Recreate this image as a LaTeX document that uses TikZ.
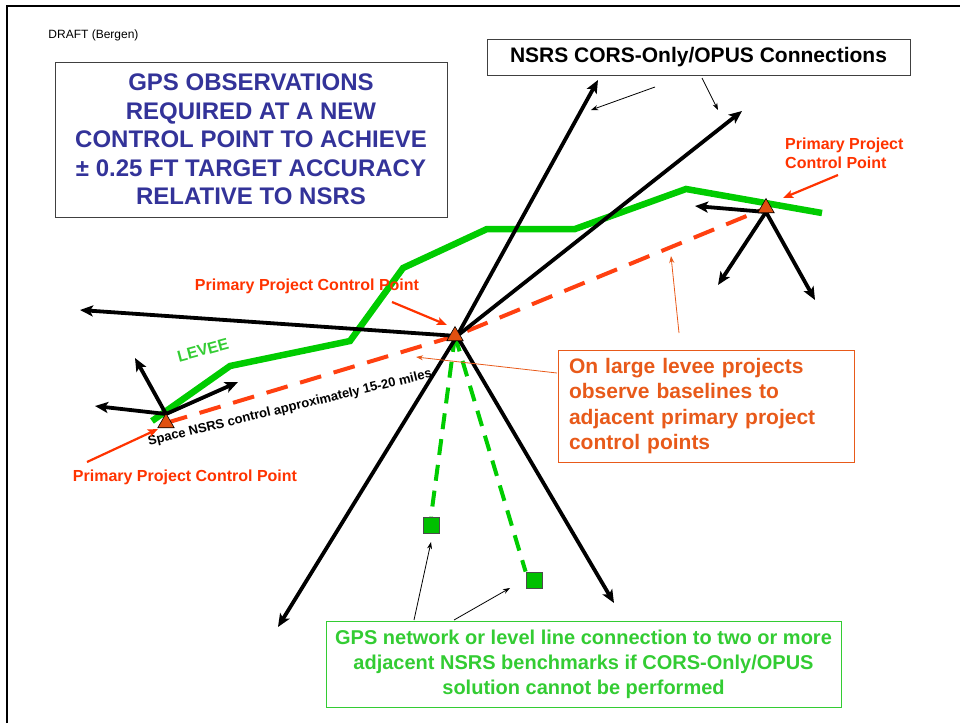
\documentclass[tikz,border=0pt]{standalone}
\usepackage{fontspec}
\setmainfont{Liberation Sans}
\usetikzlibrary{arrows.meta,shapes.geometric}
\definecolor{titleblue}{RGB}{51,51,153}
\definecolor{redlbl}{RGB}{255,51,0}
\definecolor{orangebox}{RGB}{232,90,26}
\definecolor{leveegreen}{RGB}{0,204,0}
\definecolor{greentxt}{RGB}{51,204,51}
\definecolor{trifill}{RGB}{224,80,16}
\definecolor{sqfill}{RGB}{0,192,0}
\definecolor{dashred}{RGB}{255,64,16}
\begin{document}
\begin{tikzpicture}[x=1pt,y=-1pt,
  bigarrow/.style={draw=black,line width=3.8pt,-{Stealth[length=13pt,width=11pt,inset=3pt]}},
  thinarrow/.style={draw=black,line width=0.8pt,-{Stealth[length=7pt,width=5pt]}},
  redarrow/.style={draw=redlbl,line width=2.2pt,-{Stealth[length=10pt,width=8pt,inset=2pt]}},
  orangethin/.style={draw=orangebox,line width=0.8pt,-{Stealth[length=7pt,width=5pt]}},
  leveeline/.style={draw=leveegreen,line width=6.5pt},
  obsline/.style={draw=dashred,line width=4pt,dash pattern=on 22pt off 13pt},
  levelline/.style={draw=leveegreen,line width=4pt,dash pattern=on 16pt off 10pt},
  ctrpt/.style={regular polygon,regular polygon sides=3,minimum size=19pt,inner sep=0pt,fill=trifill,draw=black,line width=0.6pt},
  bench/.style={rectangle,minimum size=16pt,inner sep=0pt,fill=sqfill,draw=black!70,line width=0.8pt},
  redlabel/.style={text=redlbl,font=\bfseries\fontsize{16}{19}\selectfont,inner sep=0pt},
  boxtext/.style={inner sep=0pt,font=\bfseries},
]
\path[use as bounding box] (0,0) rectangle (960,723);
\draw[line width=2.4pt] (7,723) -- (7,6) -- (960,6);

% texts and boxes
\node[font=\fontsize{12}{14}\selectfont,inner sep=0pt] (draft) at (93.5,35) {DRAFT (Bergen)};
\node[boxtext,draw=black!75,line width=0.8pt,minimum width=392pt,minimum height=155pt,align=center,text=titleblue,font=\bfseries\fontsize{24}{28.5}\selectfont] (title) at (251,139.5) {GPS OBSERVATIONS\\REQUIRED AT A NEW\\CONTROL POINT TO ACHIEVE\\± 0.25 FT TARGET ACCURACY\\RELATIVE TO NSRS};
\node[boxtext,draw=black!75,line width=0.8pt,minimum width=423pt,minimum height=36pt,font=\bfseries\fontsize{21}{25}\selectfont] (nsrs) at (698.5,57) {NSRS CORS-Only/OPUS Connections};
\node[boxtext,draw=orangebox,line width=1pt,minimum width=296pt,minimum height=112pt,text width=274pt,align=left,text=orangebox,font=\bfseries\fontsize{21}{25.5}\selectfont] (obox) at (706,406) {On large levee projects\\observe baselines to\\adjacent primary project\\control points};
\node[boxtext,draw=greentxt,line width=1pt,minimum width=515pt,minimum height=86pt,align=center,text=greentxt,font=\bfseries\fontsize{20}{25}\selectfont] (gbox) at (583.5,664) {GPS network or level line connection to two or more\\adjacent NSRS benchmarks if CORS-Only/OPUS\\solution cannot be performed};

% control points and benchmarks (positions)
\coordinate (hubC) at (457,336);
\coordinate (hubL) at (166,414);
\coordinate (hubR) at (766,212);
\node[bench] (bm1) at (431,525) {};
\node[bench] (bm2) at (534,580) {};

% levee
\draw[leveeline] (152,421) coordinate (lv0) -- (230,366) -- (350,341) -- (403,268) -- (487,229) -- (575,229) -- (686,189) -- (822,213) coordinate (lv1);
\node[text=greentxt,font=\bfseries\fontsize{16}{19}\selectfont,rotate=15,inner sep=0pt] (leveelbl) at (203,350) {LEVEE};

% triangle positions (drawn later on top)
\path (455,336) coordinate (cC) (166,423) coordinate (cL) (766,208) coordinate (cR);

% baselines between primary control points
\draw[obsline] (cL) -- (cC) -- (cR);
% level lines to benchmarks
\draw[levelline] (cC) -- (bm1.north);
\draw[levelline] (cC) -- (bm2.north west);

% CORS connections
\coordinate (tC1) at (598,80);
\coordinate (tC2) at (742,111);
\coordinate (tC3) at (80,310);
\coordinate (tC4) at (278,627);
\coordinate (tC5) at (614,603);
\coordinate (tL1) at (135,358);
\coordinate (tL2) at (95,406);
\coordinate (tL3) at (238,382);
\coordinate (tR1) at (695,206);
\coordinate (tR2) at (718,285);
\coordinate (tR3) at (815,300);
\foreach \t in {tC1,tC2,tC3,tC4,tC5} \draw[bigarrow] (hubC) -- (\t);
\foreach \t in {tL1,tL2,tL3} \draw[bigarrow] (hubL) -- (\t);
\foreach \t in {tR1,tR2,tR3} \draw[bigarrow] (hubR) -- (\t);

\node[ctrpt] (triC) at (cC) {};
\node[ctrpt] (triL) at (cL) {};
\node[ctrpt] (triR) at (cR) {};
\node[bench] at (bm1) {};
\node[bench] at (bm2) {};

% distance label
\node[font=\bfseries\fontsize{13}{15}\selectfont,rotate=13.5,inner sep=0pt] (space) at (290,408) {Space NSRS control approximately 15-20 miles};

% red labels
\node[redlabel] (lblC) at (307,286) {Primary Project Control Point};
\node[redlabel] (lblL) at (185,477) {Primary Project Control Point};
\node[redlabel,anchor=west,align=left] (lblR) at (785,153) {Primary Project\\Control Point};
\coordinate (rC0) at (392,302); \coordinate (rC1) at (447,325);
\coordinate (rL0) at (87,462);  \coordinate (rL1) at (158,429);
\coordinate (rR0) at (838,175); \coordinate (rR1) at (783,198);
\draw[redarrow] (rC0) -- (rC1);
\draw[redarrow] (rL0) -- (rL1);
\draw[redarrow] (rR0) -- (rR1);

% pointer arrows
\coordinate (n0) at (655,87);  \coordinate (n1) at (591,110);
\coordinate (n2) at (702,78);  \coordinate (n3) at (718,110);
\draw[thinarrow] (n0) -- (n1);
\draw[thinarrow] (n2) -- (n3);
\coordinate (g0) at (414,620); \coordinate (g1) at (431,542);
\coordinate (g2) at (454,620); \coordinate (g3) at (510,588);
\draw[thinarrow] (g0) -- (g1);
\draw[thinarrow] (g2) -- (g3);
\coordinate (o0) at (557,373); \coordinate (o1) at (416,357);
\coordinate (o2) at (679,333); \coordinate (o3) at (671,256);
\draw[orangethin] (o0) -- (o1);
\draw[orangethin] (o2) -- (o3);
\end{tikzpicture}
\end{document}
